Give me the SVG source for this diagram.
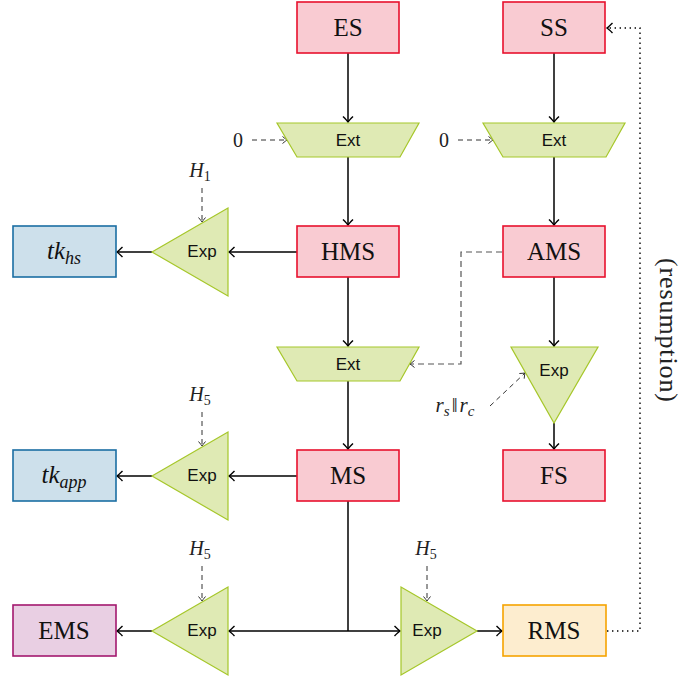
<svg xmlns="http://www.w3.org/2000/svg" width="699" height="679" viewBox="0 0 699 679">
<style>
.red{fill:#f9cbd2;stroke:#e8112d;stroke-width:1.6}
.blue{fill:#cde0eb;stroke:#1b6ea3;stroke-width:1.6}
.purple{fill:#e9cfe3;stroke:#a3186e;stroke-width:1.6}
.orange{fill:#fdedcf;stroke:#f5a300;stroke-width:1.6}
.green{fill:#dfeab4;stroke:#a6c72a;stroke-width:1.2}
.big{font-size:25px;fill:#111;text-anchor:middle}
.sans{font-size:17px;fill:#111;text-anchor:middle}
.lbl{font-size:20px;fill:#222;text-anchor:middle}
.it{font-style:italic}
.solid{fill:none;stroke:#000;stroke-width:1.5}
.dash{fill:none;stroke:#333;stroke-width:1;stroke-dasharray:5 4}
.dash2{fill:none;stroke:#555;stroke-width:1.2;stroke-dasharray:6 4}
.dot{fill:none;stroke:#000;stroke-width:1.4;stroke-dasharray:1.4 3.6}
</style>
<defs>
<marker id="arr" viewBox="-7 -6 8 12" refX="0" refY="0" markerWidth="8" markerHeight="12" markerUnits="userSpaceOnUse" orient="auto">
<path d="M-5.5,-5 Q-1.5,-1 0,0 Q-1.5,1 -5.5,5" fill="none" stroke="#000" stroke-width="1.4"/>
</marker>
<marker id="arrs" viewBox="-7 -6 8 12" refX="0" refY="0" markerWidth="8" markerHeight="12" markerUnits="userSpaceOnUse" orient="auto">
<path d="M-4.5,-3.5 Q-1.2,-0.8 0,0 Q-1.2,0.8 -4.5,3.5" fill="none" stroke="#333" stroke-width="1"/>
</marker>
</defs>

<g id="connectors">
<line class="solid" x1="348" y1="53" x2="348" y2="122" marker-end="url(#arr)"/>
<line class="solid" x1="554" y1="53" x2="554" y2="122" marker-end="url(#arr)"/>
<line class="solid" x1="348" y1="157" x2="348" y2="225" marker-end="url(#arr)"/>
<line class="solid" x1="554" y1="157" x2="554" y2="225" marker-end="url(#arr)"/>
<line class="solid" x1="297" y1="252" x2="229" y2="252" marker-end="url(#arr)"/>
<line class="solid" x1="152" y1="252" x2="117" y2="252" marker-end="url(#arr)"/>
<line class="solid" x1="348" y1="277" x2="348" y2="346" marker-end="url(#arr)"/>
<line class="solid" x1="554" y1="277" x2="554" y2="346" marker-end="url(#arr)"/>
<line class="solid" x1="348" y1="381" x2="348" y2="449" marker-end="url(#arr)"/>
<line class="solid" x1="554" y1="423" x2="554" y2="449" marker-end="url(#arr)"/>
<line class="solid" x1="297" y1="476" x2="229" y2="476" marker-end="url(#arr)"/>
<line class="solid" x1="152" y1="476" x2="117" y2="476" marker-end="url(#arr)"/>
<line class="solid" x1="348" y1="501" x2="348" y2="631"/>
<line class="solid" x1="348" y1="631" x2="229" y2="631" marker-end="url(#arr)"/>
<line class="solid" x1="348" y1="631" x2="400" y2="631" marker-end="url(#arr)"/>
<line class="solid" x1="477" y1="631" x2="502" y2="631" marker-end="url(#arr)"/>
<line class="solid" x1="152" y1="631" x2="117" y2="631" marker-end="url(#arr)"/>
<line class="dash" x1="252" y1="140" x2="287" y2="140" marker-end="url(#arrs)"/>
<line class="dash" x1="458" y1="140" x2="493" y2="140" marker-end="url(#arrs)"/>
<line class="dash" x1="202" y1="188" x2="202" y2="222" marker-end="url(#arrs)"/>
<line class="dash" x1="202" y1="412" x2="202" y2="446" marker-end="url(#arrs)"/>
<line class="dash" x1="202" y1="566" x2="202" y2="601" marker-end="url(#arrs)"/>
<line class="dash" x1="427" y1="566" x2="427" y2="601" marker-end="url(#arrs)"/>
<line class="dash" x1="490" y1="406" x2="525" y2="373" marker-end="url(#arrs)"/>
<path class="dash2" d="M502,252 H461 V364 H410" marker-end="url(#arrs)"/>
<path class="dot" d="M607,631 H640 V28 H607" marker-end="url(#arr)"/>
</g>

<g id="nodes" font-family="'Liberation Serif', 'DejaVu Serif', serif">
<g id="ES"><rect class="red" x="297" y="2" width="102" height="51"/><text class="big" x="348" y="36">ES</text></g>
<g id="SS"><rect class="red" x="503" y="2" width="102" height="51"/><text class="big" x="554" y="36">SS</text></g>
<g id="Ext1"><polygon class="green" points="277,123 419,123 400,157 297,157"/><text class="sans" font-family="'Liberation Sans', Arial, sans-serif" x="348" y="146">Ext</text></g>
<g id="Ext2"><polygon class="green" points="483,123 625,123 606,157 503,157"/><text class="sans" font-family="'Liberation Sans', Arial, sans-serif" x="554" y="146">Ext</text></g>
<g id="HMS"><rect class="red" x="297" y="226" width="102" height="51"/><text class="big" x="348" y="260">HMS</text></g>
<g id="AMS"><rect class="red" x="503" y="226" width="102" height="51"/><text class="big" x="554" y="260">AMS</text></g>
<g id="Exp1"><polygon class="green" points="228,208 228,296 152,252"/><text class="sans" font-family="'Liberation Sans', Arial, sans-serif" x="202" y="257">Exp</text></g>
<g id="tkhs"><rect class="blue" x="13" y="226" width="103" height="51"/><text class="big it" x="64" y="259">tk<tspan font-size="18" dy="5">hs</tspan></text></g>
<g id="Ext3"><polygon class="green" points="277,347 419,347 400,381 297,381"/><text class="sans" font-family="'Liberation Sans', Arial, sans-serif" x="348" y="370">Ext</text></g>
<g id="Exp2"><polygon class="green" points="511,347 598,347 554,423"/><text class="sans" font-family="'Liberation Sans', Arial, sans-serif" x="554" y="376">Exp</text></g>
<g id="MS"><rect class="red" x="297" y="450" width="102" height="51"/><text class="big" x="348" y="484">MS</text></g>
<g id="FS"><rect class="red" x="503" y="450" width="102" height="51"/><text class="big" x="554" y="484">FS</text></g>
<g id="Exp3"><polygon class="green" points="228,432 228,520 152,476"/><text class="sans" font-family="'Liberation Sans', Arial, sans-serif" x="202" y="481">Exp</text></g>
<g id="tkapp"><rect class="blue" x="13" y="450" width="103" height="51"/><text class="big it" x="64" y="483">tk<tspan font-size="18" dy="5">app</tspan></text></g>
<g id="Exp4"><polygon class="green" points="228,587 228,675 152,631"/><text class="sans" font-family="'Liberation Sans', Arial, sans-serif" x="202" y="636">Exp</text></g>
<g id="EMS"><rect class="purple" x="13" y="605" width="103" height="51"/><text class="big" x="64" y="639">EMS</text></g>
<g id="Exp5"><polygon class="green" points="401,587 401,675 477,631"/><text class="sans" font-family="'Liberation Sans', Arial, sans-serif" x="427" y="636">Exp</text></g>
<g id="RMS"><rect class="orange" x="503" y="605" width="103" height="51"/><text class="big" x="554" y="639">RMS</text></g>
</g>

<g id="labels" font-family="'Liberation Serif', 'DejaVu Serif', serif">
<text class="lbl" x="238" y="147">0</text>
<text class="lbl" x="444" y="147">0</text>
<text class="lbl it" x="200" y="177">H<tspan font-size="14" dy="4" font-style="normal">1</tspan></text>
<text class="lbl it" x="200" y="401">H<tspan font-size="14" dy="4" font-style="normal">5</tspan></text>
<text class="lbl it" x="200" y="555">H<tspan font-size="14" dy="4" font-style="normal">5</tspan></text>
<text class="lbl it" x="426" y="555">H<tspan font-size="14" dy="4" font-style="normal">5</tspan></text>
<text class="lbl it" x="455" y="412" style="font-size:21px">r<tspan font-size="15" dy="4">s</tspan><tspan dy="-4" dx="2" font-style="normal">‖</tspan><tspan dx="2">r</tspan><tspan font-size="15" dy="4">c</tspan></text>
<text class="lbl" x="0" y="0" style="font-size:26px" transform="translate(660,330) rotate(90)" textLength="144" lengthAdjust="spacing">(resumption)</text>
</g>
</svg>
